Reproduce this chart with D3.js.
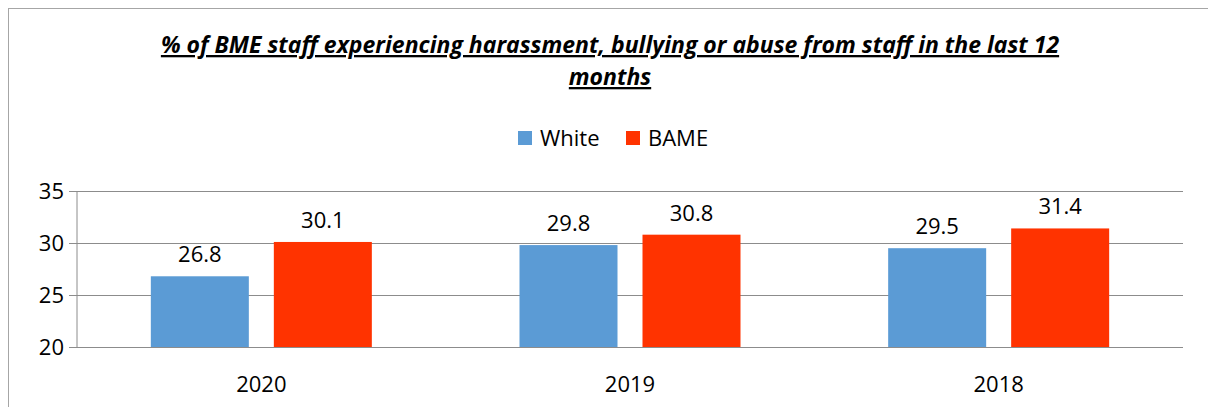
<!DOCTYPE html>
<html>
<head>
<meta charset="utf-8">
<script src="https://cdn.jsdelivr.net/npm/d3@7"></script>
<style>
  body { margin: 0; background: #fff; }
  svg { display: block; font-family: "Open Sans", "Liberation Sans", sans-serif; }
</style>
</head>
<body>
<div id="chart"></div>
<script>
const years = ['2020', '2019', '2018'];
const seriesNames = ['White', 'BAME'];
const whiteValues = [26.8, 29.8, 29.5];
const bameValues = [30.1, 30.8, 31.4];
const yTicks = [20, 25, 30, 35];
const titleLines = ['% of BME staff experiencing harassment, bullying or abuse from staff in the last 12', 'months'];

const colors = { White: '#5b9bd5', BAME: '#ff3300' };

function createBarChart() {
    const width = 1208;
    const height = 407;

    const svg = d3.select('#chart')
        .append('svg')
        .attr('width', width)
        .attr('height', height);

    // chart border (runs off the right and bottom edge)
    svg.append('rect')
        .attr('x', 8.5).attr('y', 8.5)
        .attr('width', width + 20).attr('height', height + 20)
        .attr('fill', 'none')
        .attr('stroke', '#a6a6a6');

    const usableArea = { left: 77, right: 1183, top: 191, bottom: 347 };

    const xScale = d3.scaleBand()
        .domain(years)
        .range([usableArea.left, usableArea.right]);

    const yScale = d3.scaleLinear()
        .domain([20, 35])
        .range([usableArea.bottom, usableArea.top]);

    const barWidth = 98;
    const gap = 25;
    const offset = { White: -gap / 2 - barWidth, BAME: gap / 2 };

    // gridlines
    svg.append('g')
        .attr('class', 'gridlines')
        .attr('transform', `translate(${usableArea.left}, 0)`)
        .call(d3.axisLeft(yScale).tickValues(yTicks).tickFormat('').tickSize(-(usableArea.right - usableArea.left)))
        .call(g => g.select('.domain').remove())
        .call(g => g.selectAll('line').attr('stroke', '#8c8c8c'));

    // y axis
    const yAxis = svg.append('g')
        .attr('transform', `translate(${usableArea.left}, 0)`)
        .call(d3.axisLeft(yScale).tickValues(yTicks).tickSize(8).tickPadding(5));
    yAxis.select('.domain').attr('stroke', '#8c8c8c').attr('d', `M0,${usableArea.top}V${usableArea.bottom}`);
    yAxis.selectAll('line').attr('stroke', '#8c8c8c');
    yAxis.selectAll('text').attr('font-size', 22).attr('fill', '#000').attr('font-family', '"Open Sans", sans-serif');

    // x axis labels
    svg.append('g')
        .selectAll('text')
        .data(years)
        .join('text')
        .attr('x', d => xScale(d) + xScale.bandwidth() / 2)
        .attr('y', 392)
        .attr('text-anchor', 'middle')
        .attr('font-size', 22)
        .text(d => d);

    const rows = years.map((year, i) => ({ year, White: whiteValues[i], BAME: bameValues[i] }));
    const bars = rows.flatMap(r => seriesNames.map(s => ({ year: r.year, series: s, value: r[s] })));

    svg.append('g')
        .selectAll('rect')
        .data(bars)
        .join('rect')
        .attr('x', d => xScale(d.year) + xScale.bandwidth() / 2 + offset[d.series])
        .attr('y', d => yScale(d.value))
        .attr('width', barWidth)
        .attr('height', d => yScale(20) - yScale(d.value))
        .attr('fill', d => colors[d.series]);

    svg.append('g')
        .selectAll('text')
        .data(bars)
        .join('text')
        .attr('x', d => xScale(d.year) + xScale.bandwidth() / 2 + offset[d.series] + barWidth / 2)
        .attr('y', d => yScale(d.value) - 14)
        .attr('text-anchor', 'middle')
        .attr('font-size', 22)
        .text(d => d.value.toFixed(1));

    // title
    svg.append('g')
        .selectAll('text')
        .data(titleLines)
        .join('text')
        .attr('x', 610)
        .attr('y', (d, i) => 53 + i * 32)
        .attr('text-anchor', 'middle')
        .attr('font-size', 23)
        .attr('font-weight', 'bold')
        .attr('font-style', 'italic')
        .attr('text-decoration', 'underline')
        .text(d => d);

    // legend
    const legend = svg.append('g')
        .selectAll('g')
        .data(seriesNames)
        .join('g')
        .attr('transform', (d, i) => `translate(${518 + i * 108}, 131)`);
    legend.append('rect').attr('width', 14).attr('height', 14).attr('fill', d => colors[d]);
    legend.append('text').attr('x', 22).attr('y', 15).attr('font-size', 22).text(d => d);
}

document.addEventListener('DOMContentLoaded', createBarChart);
</script>
</body>
</html>
